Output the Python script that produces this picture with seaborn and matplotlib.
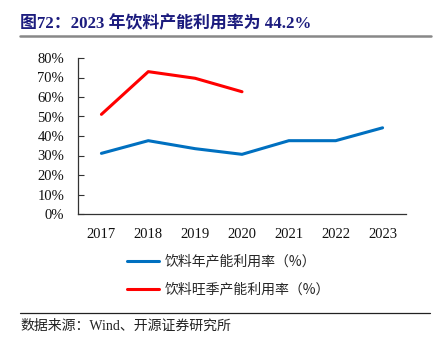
import matplotlib
matplotlib.use("Agg")
import matplotlib.pyplot as plt
import seaborn as sns
import pandas as pd
from matplotlib.lines import Line2D

years = ["2017", "2018", "2019", "2020", "2021", "2022", "2023"]
annual = [31.1, 37.6, 33.5, 30.6, 37.6, 37.6, 44.2]
peak_years = ["2017", "2018", "2019", "2020"]
peak = [51.1, 73.0, 69.6, 62.7]
yticks = [0, 10, 20, 30, 40, 50, 60, 70, 80]
label_annual = "饮料年产能利用率（%）"
label_peak = "饮料旺季产能利用率（%）"
title = "图72：2023 年饮料产能利用率为 44.2%"
source = "数据来源：Wind、开源证券研究所"

sns.set_theme(style="white")
FAM = ["Liberation Serif", "Noto Sans CJK SC", "DejaVu Sans"]
plt.rcParams["font.family"] = FAM

df1 = pd.DataFrame({"year": years, "v": annual})
df2 = pd.DataFrame({"year": peak_years, "v": peak})

fig = plt.figure(figsize=(4.35, 3.44), dpi=100)
ax = fig.add_axes([78/435, 1-214/344, (406-78)/435, (214-58)/344])

sns.lineplot(data=df1, x="year", y="v", ax=ax, color="#0070C0", linewidth=2.2, sort=False)
sns.lineplot(data=df2, x="year", y="v", ax=ax, color="#FF0000", linewidth=2.2, sort=False)

ax.set_xlim(-0.5, len(years) - 0.5)
ax.set_ylim(0, 80)
ax.set_yticks(yticks)
ax.set_yticklabels([f"{t}%" for t in yticks], fontsize=10.5, family=FAM)
ax.set_xticks(range(len(years)))
ax.set_xticklabels(years, fontsize=10.5, family=FAM)
ax.set_xticks([i + 0.5 for i in range(len(years))], minor=True)
ax.tick_params(axis="x", which="major", length=0, pad=10)
ax.tick_params(axis="x", which="minor", length=4, width=0.8, direction="out", color="#333333")
ax.tick_params(axis="y", which="major", length=4, width=0.8, direction="in", color="#333333", pad=10, left=True)
ax.set_xlabel("")
ax.set_ylabel("")
for s in ["top", "right"]:
    ax.spines[s].set_visible(False)
for s in ["left", "bottom"]:
    ax.spines[s].set_color("#333333")
    ax.spines[s].set_linewidth(0.9)
for lab in ax.get_xticklabels() + ax.get_yticklabels():
    lab.set_color("#111111")

handles = [Line2D([0], [0], color="#0070C0", lw=2.2), Line2D([0], [0], color="#FF0000", lw=2.2)]
fig.legend(handles, [label_annual, label_peak], loc="upper left",
           bbox_to_anchor=(115/435, 1-242/344), frameon=False,
           prop={"family": ["Noto Sans CJK SC"], "size": 10},
           handlelength=2.3, handletextpad=0.4, labelspacing=1.0)

fig.text(20/435, 1-24/344, title, fontsize=12.2, fontweight="bold", color="#1C1C7E",
         va="center", ha="left", family=FAM)
fig.add_artist(Line2D([20/435, 431/435], [1-35.5/344, 1-35.5/344], color="#888888", lw=1.8))
fig.add_artist(Line2D([20/435, 430/435], [1-313/344, 1-313/344], color="#222222", lw=0.9))
fig.text(20/435, 1-326/344, source, fontsize=10, color="#222222", va="center", ha="left", family=FAM)

fig.savefig("out.png", dpi=100)
